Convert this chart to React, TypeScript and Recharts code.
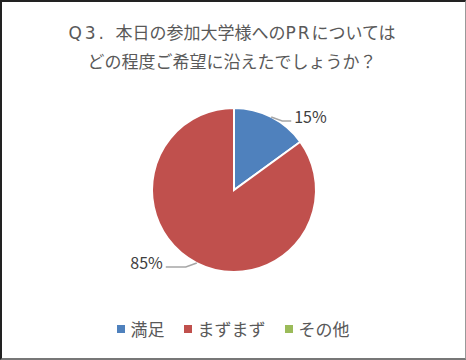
import { Cell, Legend, Pie, PieChart } from "recharts";

const categories = ["満足", "まずまず", "その他"];
const shares = [15, 85, 0];
const colors = ["#4F81BD", "#C0504D", "#9BBB59"];
const titleLine1 = ["Q3. ", "本日の参加大学様への", "PR", "については"];
const titleLine2 = "どの程度ご希望に沿えたでしょうか？";

const data = categories.map((name, i) => ({ name, value: shares[i] }));

const FONT = '"Noto Sans CJK JP", "Noto Sans", sans-serif';
const LATIN = '"DejaVu Sans", sans-serif';
const RAD = Math.PI / 180;

function renderLabel(props: any) {
  const { cx, cy, midAngle, outerRadius, value } = props;
  if (!value) return null;
  const cos = Math.cos(-midAngle * RAD);
  const sin = Math.sin(-midAngle * RAD);
  const side = cos >= 0 ? 1 : -1;
  const sx = cx + outerRadius * cos;
  const sy = cy + outerRadius * sin;
  const ex = sx + side * 11;
  const ey = sy + 4;
  const tx = ex + side * (side > 0 ? 9 : 20);
  return (
    <g>
      <polyline points={`${sx},${sy} ${ex},${ey} ${tx},${ey}`} fill="none" stroke="#a6a6a6" strokeWidth={1.5} />
      <text
        x={tx + side * 3}
        y={ey - 5}
        textAnchor={side > 0 ? "start" : "end"}
        dominantBaseline="central"
        fontSize={16}
        fontFamily={FONT}
        fill="#404040"
      >
        {value}%
      </text>
    </g>
  );
}

function LegendRow() {
  return (
    <div style={{ display: "flex", justifyContent: "center", alignItems: "center", fontFamily: FONT, fontSize: 17, color: "#595959" }}>
      {categories.map((c, i) => (
        <div key={c} style={{ display: "flex", alignItems: "center", marginRight: i < categories.length - 1 ? 19 : 0 }}>
          <span style={{ width: 8, height: 8, background: colors[i], display: "inline-block", marginRight: 6 }} />
          <span>{c}</span>
        </div>
      ))}
    </div>
  );
}

export default function App() {
  return (
    <div
      style={{
        position: "fixed",
        left: 0,
        top: 0,
        width: 466,
        height: 360,
        background: "#fff",
        boxSizing: "border-box",
        borderTop: "2px solid #222",
        borderLeft: "2px solid #222",
        borderRight: "1px solid #999",
        borderBottom: "2px solid #777",
      }}
    >
      <div
        style={{
          position: "absolute",
          top: 16,
          left: 0,
          width: 460,
          textAlign: "center",
          fontFamily: FONT,
          fontSize: 17,
          lineHeight: "27px",
          color: "#595959",
        }}
      >
        <div style={{ whiteSpace: "pre" }}>
          {titleLine1.map((part, i) =>
            i % 2 === 0 ? (
              <span key={part} style={{ fontFamily: LATIN, letterSpacing: i === 0 ? 3 : 2 }}>
                {part}
              </span>
            ) : (
              <span key={part}>{part}</span>
            )
          )}
        </div>
        <div>{titleLine2}</div>
      </div>
      <div style={{ position: "absolute", left: -2, top: -2 }}>
        <PieChart width={466} height={360} margin={{ top: 0, right: 0, bottom: 0, left: 0 }}>
          <Pie
            data={data}
            dataKey="value"
            nameKey="name"
            cx={234}
            cy={190}
            outerRadius={82}
            startAngle={90}
            endAngle={-270}
            stroke="#fff"
            strokeWidth={2}
            label={renderLabel}
            labelLine={false}
            isAnimationActive={false}
          >
            {data.map((d, i) => (
              <Cell key={d.name} fill={colors[i]} />
            ))}
          </Pie>
          <Legend content={<LegendRow />} wrapperStyle={{ top: 316, left: 0, width: 466 }} />
        </PieChart>
      </div>
    </div>
  );
}
